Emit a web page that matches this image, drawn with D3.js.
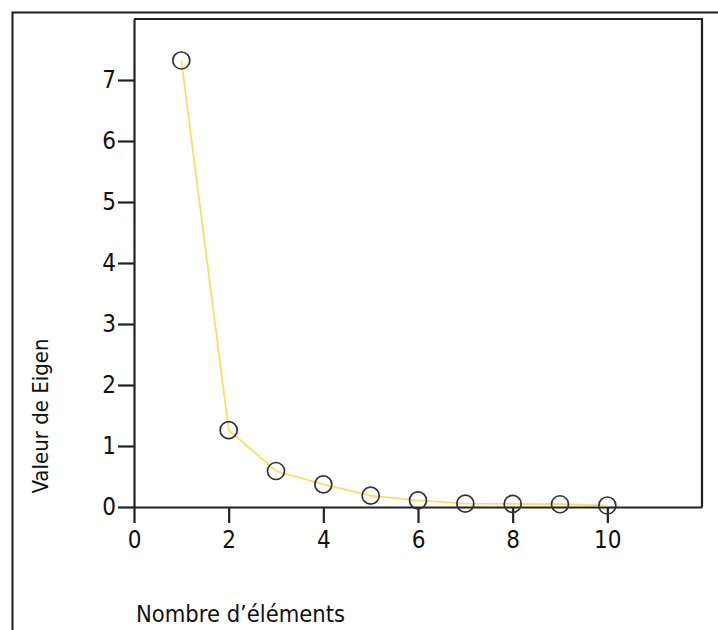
<!DOCTYPE html>
<html>
<head>
<meta charset="utf-8">
<script src="https://cdn.jsdelivr.net/npm/d3@7"></script>
<style>
  body { margin: 0; background: #fff; }
  svg { display: block; }
</style>
</head>
<body>
<svg id="chart" width="718" height="630"></svg>
<script>
// components 1..10 and their eigenvalues
var components = [1, 2, 3, 4, 5, 6, 7, 8, 9, 10]
var eigenValues = [7.32, 1.26, 0.59, 0.37, 0.185, 0.11, 0.055, 0.05, 0.045, 0.025]

var xTicks = [0, 2, 4, 6, 8, 10]
var yTicks = [0, 1, 2, 3, 4, 5, 6, 7]

var xTitle = "Nombre d\u2019éléments"
var yTitle = "Valeur de Eigen"

var font = '"DejaVu Sans Condensed", "DejaVu Sans", sans-serif'

var svg = d3.select('#chart')

var x = d3.scaleLinear().domain([0, 12]).range([134, 702])
var y = d3.scaleLinear().domain([0, 8]).range([507, 19])

// outer frame, runs off the right and bottom edges
svg.append('rect')
  .attr('x', 12.5).attr('y', 12.5)
  .attr('width', 800).attr('height', 800)
  .style('fill', 'none')
  .style('stroke', '#1a1a1a')
  .style('stroke-width', 2)

// top and right sides of the plot box
svg.append('path')
  .attr('d', 'M' + x(0) + ',' + y(8) + 'H' + x(12) + 'V' + y(0))
  .style('fill', 'none')
  .style('stroke', '#222')
  .style('stroke-width', 2.2)

var yAxis = svg.append('g')
  .attr('transform', 'translate(' + x(0) + ',0)')
  .call(d3.axisLeft(y).tickValues(yTicks).tickSize(16).tickSizeOuter(0).tickPadding(2))

var xAxis = svg.append('g')
  .attr('transform', 'translate(0,' + y(0) + ')')
  .call(d3.axisBottom(x).tickValues(xTicks).tickSize(16).tickSizeOuter(0).tickPadding(8))

;[xAxis, yAxis].forEach(function (g) {
  g.attr('font-family', font).attr('font-size', 24)
  g.selectAll('path, line').style('stroke', '#222').style('stroke-width', 2.2)
  g.selectAll('text').style('fill', '#111')
})

// scree line
var line = d3.line()
  .x(function (d, i) { return x(components[i]) })
  .y(function (d) { return y(d) })

svg.append('path')
  .datum(eigenValues)
  .attr('d', line)
  .style('fill', 'none')
  .style('stroke', '#f3e262')
  .style('stroke-width', 1.8)

svg.selectAll('circle.pt')
  .data(eigenValues)
  .enter().append('circle')
  .attr('class', 'pt')
  .attr('cx', function (d, i) { return x(components[i]) })
  .attr('cy', function (d) { return y(d) })
  .attr('r', 8.5)
  .style('fill', 'none')
  .style('stroke', '#333')
  .style('stroke-width', 1.7)

// titles
svg.append('text')
  .attr('x', 136)
  .attr('y', 622)
  .attr('font-family', font)
  .attr('font-size', 23.5)
  .style('fill', '#111')
  .text(xTitle)

svg.append('text')
  .attr('transform', 'translate(48,416) rotate(-90)')
  .attr('text-anchor', 'middle')
  .attr('font-family', font)
  .attr('font-size', 22)
  .style('fill', '#111')
  .text(yTitle)
</script>
</body>
</html>
